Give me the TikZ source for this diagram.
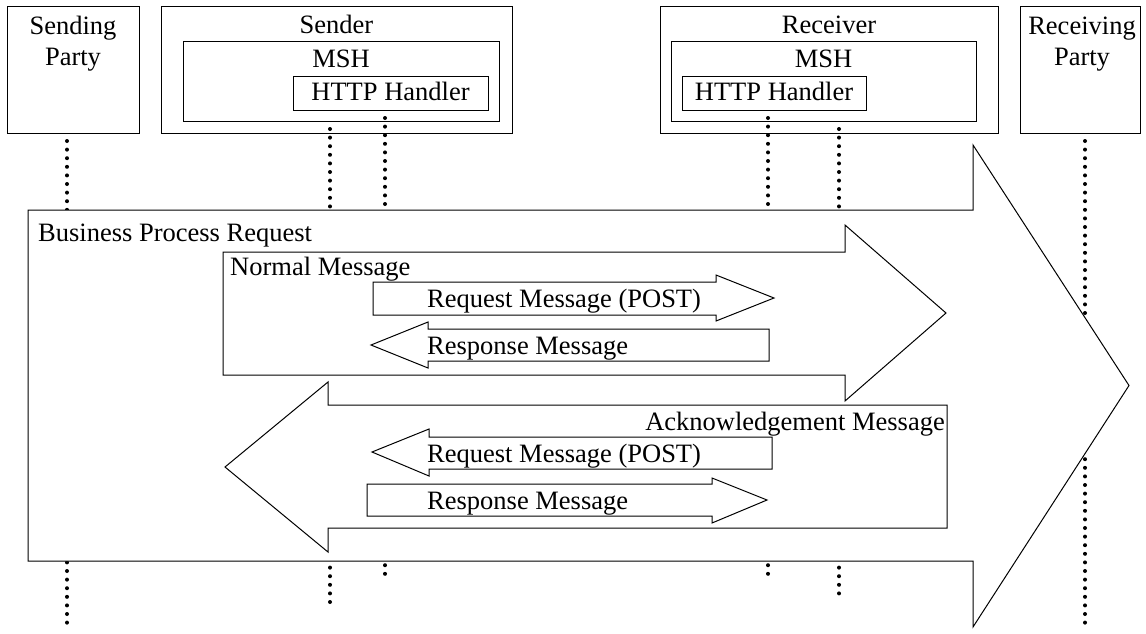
\documentclass[tikz,border=0pt]{standalone}
\usepackage{fontspec}
\setmainfont{Liberation Serif}

\begin{document}
\begin{tikzpicture}[x=1pt,y=-1pt,font=\fontsize{26.5}{31}\selectfont,
  box/.style={draw,line width=1pt,inner sep=0pt,anchor=north west},
  lbl/.style={inner sep=0pt,anchor=base},
  life/.style={line width=4pt,line cap=round,dash pattern=on 0pt off 8.6pt},
  blk/.style={draw,fill=white,line width=1pt,line join=miter}]
  \useasboundingbox (0,0) rectangle (1146,633);
  % parties, MSHs and HTTP handlers
  \node[box,minimum width=132pt,minimum height=127pt] (sparty) at (7,6) {};
  \node[box,minimum width=351pt,minimum height=127pt] (sender) at (161,6) {};
  \node[box,minimum width=316pt,minimum height=80pt] (smsh) at (183,41) {};
  \node[box,minimum width=195pt,minimum height=34pt] (shttp) at (293,76) {};
  \node[box,minimum width=338pt,minimum height=127pt] (receiver) at (660,6) {};
  \node[box,minimum width=305pt,minimum height=80pt] (rmsh) at (671,41) {};
  \node[box,minimum width=184pt,minimum height=34pt] (rhttp) at (682,76) {};
  \node[box,minimum width=120pt,minimum height=127pt] (rparty) at (1020,6) {};
  \node[lbl,align=center] (sparty-t) at (73,65) {Sending\\Party};
  \node[lbl] (sender-t) at (336.5,33) {Sender};
  \node[lbl] (smsh-t) at (341,67) {MSH};
  \node[lbl] (shttp-t) at (390.5,100) {HTTP Handler};
  \node[lbl] (receiver-t) at (829,33) {Receiver};
  \node[lbl] (rmsh-t) at (823.5,67) {MSH};
  \node[lbl] (rhttp-t) at (774,100) {HTTP Handler};
  \node[lbl,align=center] (rparty-t) at (1082,65) {Receiving\\Party};
  % lifelines
  \coordinate (sparty-end) at (67,630);
  \coordinate (smsh-end) at (330,602);
  \coordinate (shttp-end) at (385,576);
  \coordinate (rhttp-end) at (768,576);
  \coordinate (rmsh-end) at (839,594);
  \coordinate (rparty-end) at (1085,630);
  \foreach \n in {sparty,smsh,shttp,rhttp,rmsh,rparty}
    \draw[life] (\n.south -| \n-end) ++(0,7) -- (\n-end);
  % block arrows: tail/head base/tip/body top/body bottom/head top/head bottom/middle
  \foreach \a/\b/\t/\yt/\yb/\ht/\hb/\yc in {28/973/1129/210/561/145/627/385.5,
      223/845/946/252/375/225/401/313, 947/328/225/405/528/382/552/467,
      373/716/774/282/315/275/321/298, 769/428/371/329/361/322/368/345,
      772/429/372/437/469/429/476/452, 367/712/767/484/516/478/523/500}
    \draw[blk] (\a,\yt) -- (\b,\yt) -- (\b,\ht) -- (\t,\yc) -- (\b,\hb)
      -- (\b,\yb) -- (\a,\yb) -- cycle;
  \node[lbl,anchor=base west] (bpr) at (38,241) {Business Process Request};
  \node[lbl,anchor=base west] (normal) at (230,275) {Normal Message};
  \node[lbl,anchor=base east] (ack) at (945,430) {Acknowledgement Message};
  \node[lbl,anchor=base west] (req1) at (427,307) {Request Message (POST)};
  \node[lbl,anchor=base west] (resp1) at (427,354) {Response Message};
  \node[lbl,anchor=base west] (req2) at (427,462) {Request Message (POST)};
  \node[lbl,anchor=base west] (resp2) at (427,509) {Response Message};
\end{tikzpicture}
\end{document}
